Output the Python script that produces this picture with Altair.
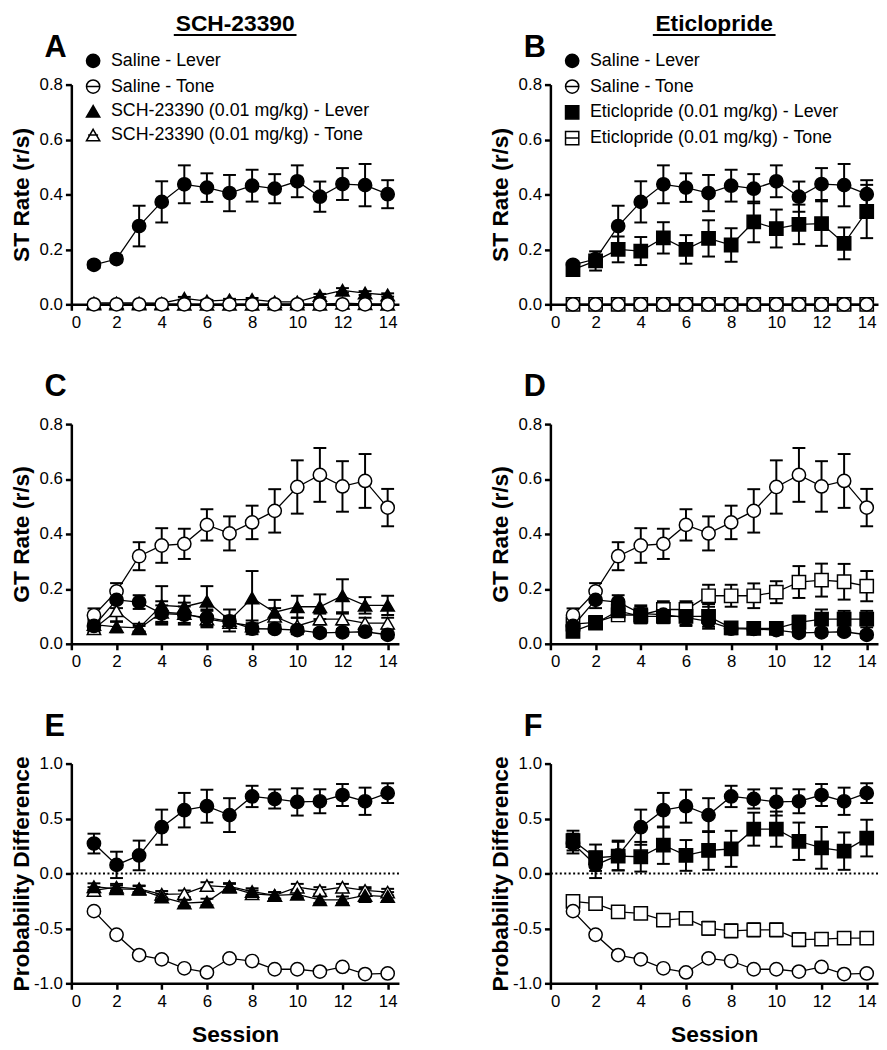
import altair as alt
import pandas as pd

sessions = list(range(1, 15))

# ---------- ST rate (panels A, B) ----------
st_sal_lever = [0.144, 0.165, 0.285, 0.373, 0.437, 0.425, 0.405, 0.432, 0.421, 0.448, 0.392, 0.438, 0.434, 0.401]
st_sal_lever_err = [0.012, 0.012, 0.074, 0.075, 0.069, 0.052, 0.066, 0.058, 0.053, 0.058, 0.055, 0.058, 0.077, 0.051]
st_sal_tone = [0.0, 0.0, 0.0, 0.0, 0.0, 0.0, 0.0, 0.0, 0.0, 0.0, 0.0, 0.0, 0.0, 0.0]
st_sal_tone_err = [0.0, 0.0, 0.0, 0.0, 0.0, 0.0, 0.0, 0.0, 0.0, 0.0, 0.0, 0.0, 0.0, 0.0]
st_sch_lever = [0.005, 0.005, 0.005, 0.004, 0.022, 0.012, 0.016, 0.018, 0.009, 0.009, 0.032, 0.051, 0.041, 0.034]
st_sch_lever_err = [0.003, 0.003, 0.003, 0.003, 0.005, 0.004, 0.004, 0.005, 0.003, 0.003, 0.006, 0.008, 0.007, 0.006]
st_sch_tone = [0.001, 0.001, 0.001, 0.001, 0.0, 0.0, 0.0, 0.0, 0.001, 0.001, 0.0, 0.004, 0.002, 0.0]
st_sch_tone_err = [0.0, 0.0, 0.0, 0.0, 0.0, 0.0, 0.0, 0.0, 0.0, 0.0, 0.0, 0.002, 0.001, 0.0]
st_etic_lever = [0.126, 0.158, 0.2, 0.194, 0.242, 0.2, 0.24, 0.216, 0.3, 0.276, 0.291, 0.294, 0.222, 0.338]
st_etic_lever_err = [0.015, 0.035, 0.047, 0.051, 0.057, 0.052, 0.066, 0.061, 0.074, 0.069, 0.072, 0.081, 0.058, 0.097]
st_etic_tone = [0.0, 0.0, 0.0, 0.0, 0.0, 0.0, 0.0, 0.0, 0.0, 0.0, 0.0, 0.0, 0.0, 0.0]
st_etic_tone_err = [0.0, 0.0, 0.0, 0.0, 0.0, 0.0, 0.0, 0.0, 0.0, 0.0, 0.0, 0.0, 0.0, 0.0]

# ---------- GT rate (panels C, D) ----------
gt_sal_lever = [0.065, 0.16, 0.152, 0.11, 0.106, 0.095, 0.082, 0.055, 0.054, 0.05, 0.04, 0.042, 0.044, 0.033]
gt_sal_lever_err = [0.02, 0.03, 0.025, 0.03, 0.03, 0.03, 0.02, 0.02, 0.012, 0.012, 0.012, 0.012, 0.012, 0.012]
gt_sal_tone = [0.104, 0.191, 0.319, 0.358, 0.364, 0.433, 0.402, 0.442, 0.484, 0.571, 0.615, 0.573, 0.593, 0.496]
gt_sal_tone_err = [0.025, 0.03, 0.051, 0.063, 0.055, 0.057, 0.062, 0.061, 0.079, 0.097, 0.098, 0.092, 0.098, 0.068]
gt_sch_lever = [0.07, 0.062, 0.058, 0.14, 0.135, 0.155, 0.085, 0.167, 0.115, 0.135, 0.135, 0.175, 0.14, 0.14]
gt_sch_lever_err = [0.02, 0.02, 0.015, 0.07, 0.04, 0.055, 0.04, 0.098, 0.045, 0.04, 0.045, 0.06, 0.03, 0.035]
gt_sch_tone = [0.055, 0.12, 0.055, 0.115, 0.11, 0.09, 0.078, 0.065, 0.1, 0.065, 0.09, 0.09, 0.075, 0.075]
gt_sch_tone_err = [0.015, 0.04, 0.01, 0.04, 0.04, 0.03, 0.02, 0.02, 0.03, 0.03, 0.02, 0.02, 0.02, 0.02]
gt_etic_lever = [0.045, 0.075, 0.12, 0.1, 0.1, 0.1, 0.1, 0.058, 0.056, 0.056, 0.078, 0.09, 0.09, 0.09]
gt_etic_lever_err = [0.015, 0.02, 0.03, 0.025, 0.025, 0.03, 0.045, 0.02, 0.015, 0.015, 0.025, 0.035, 0.03, 0.03]
gt_etic_tone = [0.072, 0.078, 0.105, 0.105, 0.125, 0.125, 0.175, 0.175, 0.175, 0.188, 0.225, 0.232, 0.226, 0.21]
gt_etic_tone_err = [0.02, 0.02, 0.02, 0.03, 0.03, 0.03, 0.04, 0.04, 0.045, 0.04, 0.058, 0.06, 0.065, 0.055]

# ---------- Probability difference (panels E, F) ----------
pd_sal_lever = [0.272, 0.078, 0.164, 0.421, 0.576, 0.612, 0.531, 0.701, 0.678, 0.651, 0.657, 0.714, 0.657, 0.731]
pd_sal_lever_err = [0.09, 0.12, 0.135, 0.16, 0.157, 0.15, 0.154, 0.097, 0.087, 0.124, 0.109, 0.1, 0.124, 0.09]
pd_sal_tone = [-0.343, -0.558, -0.743, -0.782, -0.863, -0.901, -0.773, -0.797, -0.872, -0.872, -0.893, -0.851, -0.916, -0.91]
pd_sal_tone_err = [0.02, 0.02, 0.02, 0.02, 0.02, 0.02, 0.02, 0.02, 0.02, 0.02, 0.02, 0.02, 0.02, 0.02]
pd_sch_lever = [-0.12, -0.14, -0.145, -0.215, -0.27, -0.26, -0.118, -0.165, -0.2, -0.19, -0.24, -0.24, -0.2, -0.21]
pd_sch_lever_err = [0.03, 0.03, 0.03, 0.03, 0.03, 0.03, 0.03, 0.03, 0.03, 0.03, 0.03, 0.03, 0.06, 0.04]
pd_sch_tone = [-0.155, -0.125, -0.14, -0.19, -0.185, -0.11, -0.125, -0.185, -0.2, -0.125, -0.155, -0.125, -0.155, -0.17]
pd_sch_tone_err = [0.03, 0.03, 0.03, 0.03, 0.03, 0.03, 0.03, 0.03, 0.03, 0.03, 0.03, 0.03, 0.03, 0.03]
pd_etic_lever = [0.299, 0.143, 0.158, 0.152, 0.257, 0.164, 0.209, 0.224, 0.403, 0.403, 0.293, 0.233, 0.203, 0.322]
pd_etic_lever_err = [0.09, 0.12, 0.13, 0.135, 0.17, 0.14, 0.176, 0.164, 0.15, 0.16, 0.17, 0.19, 0.17, 0.167]
pd_etic_tone = [-0.254, -0.275, -0.349, -0.364, -0.424, -0.409, -0.499, -0.522, -0.513, -0.513, -0.603, -0.597, -0.588, -0.588]
pd_etic_tone_err = [0.03, 0.03, 0.035, 0.045, 0.045, 0.045, 0.06, 0.06, 0.06, 0.06, 0.06, 0.05, 0.05, 0.05]

sch_names = ["Saline - Lever", "Saline - Tone",
             "SCH-23390 (0.01 mg/kg) - Lever", "SCH-23390 (0.01 mg/kg) - Tone"]
etic_names = ["Saline - Lever", "Saline - Tone",
              "Eticlopride (0.01 mg/kg) - Lever", "Eticlopride (0.01 mg/kg) - Tone"]

FONT = "Liberation Sans"
W, H = 331, 222

CIRCLE_LINE = "M1,0A1,1 0 1,1 -1,0A1,1 0 1,1 1,0ZM-1,0L1,0"
TRI_LINE = "M0,-0.866L1,0.866L-1,0.866ZM-0.75,0L0.75,0"
SQUARE_LINE = "M-1,-1H1V1H-1ZM-1,0H1"

sch_shapes = ["circle", "circle", "triangle-up", "triangle-up"]
sch_legend_shapes = ["circle", CIRCLE_LINE, "triangle-up", TRI_LINE]
etic_shapes = ["circle", "circle", "square", "square"]
etic_legend_shapes = ["circle", CIRCLE_LINE, "square", SQUARE_LINE]
fills = ["black", "white", "black", "white"]
strokes = ["black", "black", "black", "black"]
sch_sizes = [180, 180, 225, 225]
etic_sizes = [180, 180, 165, 165]


def long_df(names, values, errors):
    rows = []
    for k, (n, vals, errs) in enumerate(zip(names, values, errors)):
        for s, v, e in zip(sessions, vals, errs):
            rows.append({"session": s, "value": v, "lo": v - e, "hi": v + e,
                         "series": n, "k": k})
    df = pd.DataFrame(rows)
    return df.sort_values("k", ascending=False, kind="stable").reset_index(drop=True)


LABEL_EXPR = ("datum.value < 0 ? '-' + format(-datum.value, '.1f') "
              ": format(datum.value, '.1f')")


def panel(names, values, errors, shapes, legend_shapes, sizes, ytitle, ydom, yvals,
          letter, show_legend=False, zero_rule=False, xtitle=None, col_title=None):
    df = long_df(names, values, errors)
    xscale = alt.Scale(domain=[0, 14.5], nice=False, zero=False)
    yscale = alt.Scale(domain=ydom, nice=False, zero=False)
    if xtitle:
        xaxis = alt.Axis(values=list(range(0, 15, 2)), format="d", title=xtitle,
                         titlePadding=15, labelPadding=4)
    else:
        xaxis = alt.Axis(values=list(range(0, 15, 2)), format="d", title=None,
                         labelPadding=4)
    yaxis = alt.Axis(values=yvals, title=ytitle, titleX=-38, labelExpr=LABEL_EXPR)

    def X(f):
        return alt.X(f"{f}:Q", scale=xscale, axis=xaxis)

    def Y(f):
        return alt.Y(f"{f}:Q", scale=yscale, axis=yaxis)

    base = alt.Chart(df)
    layers = []
    if zero_rule:
        layers.append(
            alt.Chart(pd.DataFrame({"z": [0]}))
            .mark_rule(color="black", strokeWidth=2, strokeDash=[2, 2.5])
            .encode(y=alt.datum(0))
        )
    layers.append(base.mark_rule(color="black", strokeWidth=2)
                  .encode(x=X("session"), y=Y("lo"), y2="hi:Q"))
    layers.append(base.mark_tick(orient="horizontal", color="black", size=13,
                                 thickness=2, opacity=1)
                  .encode(x=X("session"), y=Y("hi")))
    layers.append(base.mark_tick(orient="horizontal", color="black", size=13,
                                 thickness=2, opacity=1)
                  .encode(x=X("session"), y=Y("lo")))
    layers.append(base.mark_line(color="black", strokeWidth=1.3)
                  .encode(x=X("session"), y=Y("value"), detail="series:N"))
    layers.append(
        base.mark_point(stroke="black", strokeWidth=1.5, opacity=1, fillOpacity=1)
        .encode(
            x=X("session"), y=Y("value"),
            shape=alt.Shape("series:N", scale=alt.Scale(domain=names, range=shapes),
                            legend=None),
            fill=alt.Fill("series:N", scale=alt.Scale(domain=names, range=fills),
                          legend=None),
            size=alt.Size("series:N", scale=alt.Scale(domain=names, range=sizes),
                          legend=None),
        )
    )
    if show_legend:
        leg = alt.Legend(orient="none", legendX=13, legendY=-33, title=None,
                         labelFont=FONT, labelFontSize=18, labelColor="black",
                         symbolSize=180, symbolStrokeWidth=1.5,
                         symbolStrokeColor="black", labelOffset=9, rowPadding=6,
                         padding=0, labelLimit=500, symbolOpacity=1)
        layers.append(
            base.transform_filter("datum.session < 0")
            .mark_point(strokeWidth=1.5, opacity=1)
            .encode(
                x=X("session"), y=Y("value"),
                shape=alt.Shape("series:N",
                                scale=alt.Scale(domain=names, range=legend_shapes),
                                legend=leg),
                fill=alt.Fill("series:N", scale=alt.Scale(domain=names, range=fills),
                              legend=leg),
                stroke=alt.Stroke("series:N",
                                  scale=alt.Scale(domain=names, range=strokes),
                                  legend=leg),
            )
        )
    one = pd.DataFrame({"t": [letter]})
    layers.append(
        alt.Chart(one).mark_text(font=FONT, fontSize=31, fontWeight="bold",
                                 align="left", baseline="alphabetic", color="black")
        .encode(text="t:N", x=alt.value(-27), y=alt.value(-28))
    )
    if col_title:
        ct = pd.DataFrame({"t": [col_title]})
        layers.append(
            alt.Chart(ct).mark_text(font=FONT, fontSize=23, fontWeight="bold",
                                    align="center", baseline="alphabetic",
                                    color="black")
            .encode(text="t:N", x=alt.value(W / 2), y=alt.value(-54))
        )
        layers.append(
            alt.Chart(ct).mark_rule(color="black", strokeWidth=2)
            .encode(x=alt.value(W / 2 - 62), x2=alt.value(W / 2 + 62),
                    y=alt.value(-50))
        )
    return (alt.layer(*layers)
            .resolve_scale(shape="independent", fill="independent",
                           size="independent", stroke="independent")
            .properties(width=W, height=H))


rate_ticks = [0, 0.2, 0.4, 0.6, 0.8]
pd_ticks = [-1.0, -0.5, 0.0, 0.5, 1.0]

pA = panel(sch_names, [st_sal_lever, st_sal_tone, st_sch_lever, st_sch_tone],
           [st_sal_lever_err, st_sal_tone_err, st_sch_lever_err, st_sch_tone_err],
           sch_shapes, sch_legend_shapes, sch_sizes, "ST Rate (r/s)", [0, 0.8],
           rate_ticks, "A", show_legend=True, col_title="SCH-23390")
pB = panel(etic_names, [st_sal_lever, st_sal_tone, st_etic_lever, st_etic_tone],
           [st_sal_lever_err, st_sal_tone_err, st_etic_lever_err, st_etic_tone_err],
           etic_shapes, etic_legend_shapes, etic_sizes, "ST Rate (r/s)", [0, 0.8],
           rate_ticks, "B", show_legend=True, col_title="Eticlopride")
pC = panel(sch_names, [gt_sal_lever, gt_sal_tone, gt_sch_lever, gt_sch_tone],
           [gt_sal_lever_err, gt_sal_tone_err, gt_sch_lever_err, gt_sch_tone_err],
           sch_shapes, sch_legend_shapes, sch_sizes, "GT Rate (r/s)", [0, 0.8],
           rate_ticks, "C")
pD = panel(etic_names, [gt_sal_lever, gt_sal_tone, gt_etic_lever, gt_etic_tone],
           [gt_sal_lever_err, gt_sal_tone_err, gt_etic_lever_err, gt_etic_tone_err],
           etic_shapes, etic_legend_shapes, etic_sizes, "GT Rate (r/s)", [0, 0.8],
           rate_ticks, "D")
pE = panel(sch_names, [pd_sal_lever, pd_sal_tone, pd_sch_lever, pd_sch_tone],
           [pd_sal_lever_err, pd_sal_tone_err, pd_sch_lever_err, pd_sch_tone_err],
           sch_shapes, sch_legend_shapes, sch_sizes, "Probability Difference",
           [-1, 1], pd_ticks, "E", zero_rule=True, xtitle="Session")
pF = panel(etic_names, [pd_sal_lever, pd_sal_tone, pd_etic_lever, pd_etic_tone],
           [pd_sal_lever_err, pd_sal_tone_err, pd_etic_lever_err, pd_etic_tone_err],
           etic_shapes, etic_legend_shapes, etic_sizes, "Probability Difference",
           [-1, 1], pd_ticks, "F", zero_rule=True, xtitle="Session")

chart = (
    alt.concat(pA, pB, pC, pD, pE, pF, columns=2,
               spacing={"row": 121, "column": 153}, bounds="flush")
    .properties(padding={"left": 2, "right": 0, "top": 0, "bottom": 0})
    .configure(font=FONT)
    .configure_view(stroke=None)
    .configure_axis(
        grid=False, domainColor="black", domainWidth=2.5, tickColor="black",
        tickWidth=2.5, tickSize=6, labelColor="black", labelFont=FONT,
        labelFontSize=17, labelPadding=3, titleFont=FONT, titleFontSize=23,
        titleFontWeight="bold", titleColor="black",
    )
)

chart.save("out.html", embed_options={"renderer": "svg", "actions": False})
